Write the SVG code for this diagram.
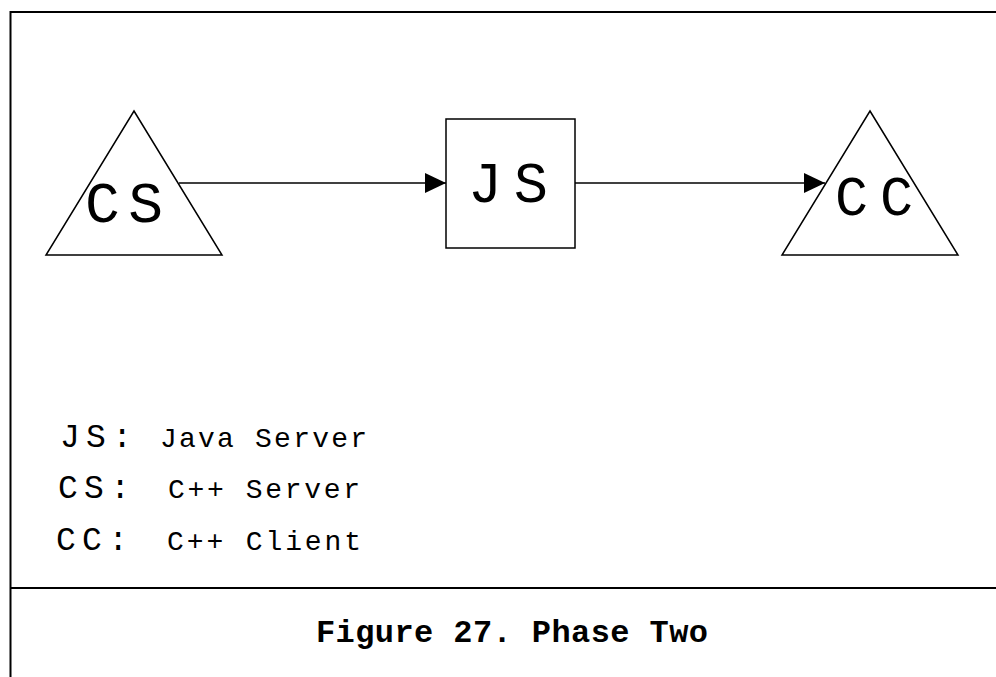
<svg xmlns="http://www.w3.org/2000/svg" width="996" height="677" viewBox="0 0 996 677">
<style>
.frame{stroke:#000;stroke-width:2;fill:none}
.shape{stroke:#000;stroke-width:1.5;fill:#fff}
.conn{stroke:#000;stroke-width:1.5;fill:none}
.big{font-family:"Liberation Mono","DejaVu Sans Mono",monospace;fill:#000}
.small{font-family:"Liberation Mono","DejaVu Sans Mono",monospace;fill:#000;font-size:28px}
.cap{font-family:"Liberation Mono","DejaVu Sans Mono",monospace;font-weight:bold;font-size:32px;fill:#000}
</style>
<defs>
<marker id="arr" markerUnits="userSpaceOnUse" markerWidth="22" markerHeight="20" refX="21" refY="10" orient="auto">
<path d="M0,0 L21,10 L0,20 z" fill="#000"/>
</marker>
</defs>
<rect width="996" height="677" fill="#fff"/>
<g id="frame">
<path class="frame" d="M10.5,677 V12 H996"/>
<path class="frame" d="M10,588 H996"/>
</g>
<g id="connectors">
<line class="conn" x1="179" y1="183" x2="446" y2="183" marker-end="url(#arr)"/>
<line class="conn" x1="575" y1="183" x2="825" y2="183" marker-end="url(#arr)"/>
</g>
<g id="node-cs">
<polygon class="shape" points="134,111 222,255 46,255"/>
<text class="big" x="85" y="222" font-size="58" textLength="78" lengthAdjust="spacing">CS</text>
</g>
<g id="node-js">
<rect class="shape" x="446" y="119" width="129" height="129"/>
<text class="big" x="468" y="202" font-size="57" textLength="80" lengthAdjust="spacing">JS</text>
</g>
<g id="node-cc">
<polygon class="shape" points="870,111 958,255 782,255"/>
<text class="big" x="835" y="215" font-size="55" textLength="78" lengthAdjust="spacing">CC</text>
</g>
<g id="legend">
<text class="big" x="60" y="447" font-size="33" textLength="72" lengthAdjust="spacing">JS:</text>
<text class="small" x="160" y="447" textLength="207" lengthAdjust="spacing">Java Server</text>
<text class="big" x="58" y="498" font-size="33" textLength="72" lengthAdjust="spacing">CS:</text>
<text class="small" x="168" y="498" textLength="192" lengthAdjust="spacing">C++ Server</text>
<text class="big" x="56" y="550" font-size="33" textLength="72" lengthAdjust="spacing">CC:</text>
<text class="small" x="167" y="550" textLength="194" lengthAdjust="spacing">C++ Client</text>
</g>
<g id="caption">
<text class="cap" x="316" y="642" textLength="392" lengthAdjust="spacing">Figure 27. Phase Two</text>
</g>
</svg>
